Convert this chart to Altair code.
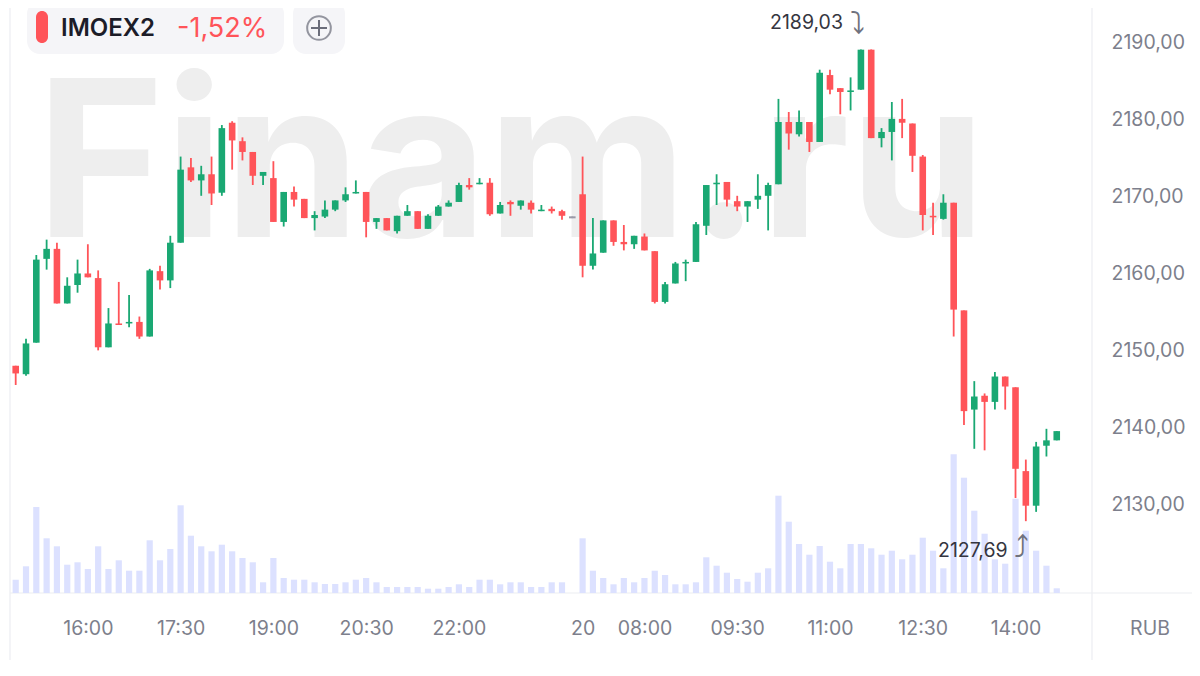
import altair as alt
import pandas as pd

opens = [2147.9,2146.8,2150.9,2161.8,2163.1,2156.0,2158.4,2159.9,2159.3,2150.3,2153.4,2153.4,2153.6,2151.7,2160.2,2159.0,2163.9,2173.7,2172.0,2172.8,
         2170.4,2179.5,2177.1,2175.7,2172.6,2172.3,2166.6,2170.5,2169.6,2167.1,2167.3,2168.2,2169.4,2170.3,2170.5,2166.6,2167.1,2165.4,2167.4,2168.0,
         2165.7,2167.4,2168.6,2169.2,2171.4,2171.5,2171.7,2167.7,2169.2,2168.7,2169.1,2168.0,2168.3,2168.0,2167.2,2170.2,2160.9,2162.6,2166.8,2164.0,
         2163.7,2164.7,2162.8,2156.2,2158.6,2161.2,2161.4,2166.1,2171.5,2171.8,2169.3,2168.6,2169.5,2170.0,2171.5,2179.6,2178.0,2179.6,2177.0,2185.7,
         2184.0,2183.5,2183.8,2189.0,2177.5,2178.3,2180.0,2179.4,2175.1,2167.4,2167.0,2169.1,2155.1,2142.2,2144.0,2143.2,2146.5,2145.1,2134.2,2129.7,
         2137.5,2138.2]
highs = [2147.9,2151.4,2162.3,2164.3,2163.9,2159.4,2161.7,2163.7,2160.3,2155.4,2158.8,2157.1,2154.3,2160.5,2160.9,2164.8,2175.1,2174.9,2173.9,2175.1,
         2179.2,2179.7,2177.6,2175.7,2173.1,2174.5,2170.5,2171.2,2169.6,2168.0,2169.4,2169.4,2171.1,2172.0,2170.5,2167.1,2167.1,2167.4,2168.8,2168.0,
         2167.6,2168.8,2169.4,2171.7,2172.3,2172.3,2172.3,2169.2,2169.4,2169.4,2169.4,2168.8,2168.6,2168.2,2167.3,2175.1,2167.1,2166.8,2166.8,2166.2,
         2164.8,2165.1,2162.8,2158.8,2161.4,2161.7,2166.6,2171.4,2172.8,2171.8,2170.0,2169.3,2172.8,2171.7,2182.6,2180.9,2181.1,2179.6,2186.4,2186.4,
         2184.0,2185.4,2189.03,2189.03,2178.8,2182.2,2182.6,2179.4,2175.3,2169.1,2170.2,2169.1,2155.1,2145.9,2144.3,2147.1,2146.5,2145.1,2135.7,2138.0,
         2139.7,2139.4]
lows = [2145.4,2146.6,2150.9,2160.4,2156.0,2156.0,2157.4,2159.4,2149.9,2150.3,2153.2,2152.9,2151.4,2151.7,2157.8,2158.0,2163.9,2171.8,2170.0,2168.8,
        2170.0,2173.4,2174.6,2171.4,2171.4,2166.6,2166.0,2168.6,2167.1,2165.5,2167.1,2168.0,2169.2,2170.3,2164.6,2165.7,2165.5,2165.1,2167.4,2165.7,
        2165.7,2167.4,2168.6,2169.2,2170.8,2171.5,2167.4,2167.7,2167.4,2168.2,2167.7,2168.0,2167.7,2166.9,2167.1,2159.4,2160.4,2162.6,2163.5,2162.9,
        2163.1,2162.9,2156.0,2156.0,2158.6,2158.9,2161.4,2164.9,2168.8,2168.6,2168.0,2166.6,2168.3,2165.5,2171.5,2176.0,2177.7,2175.7,2177.0,2183.2,
        2180.6,2181.1,2183.8,2177.5,2176.3,2174.6,2177.5,2173.1,2165.5,2164.9,2166.9,2151.7,2140.2,2137.1,2136.9,2142.2,2142.2,2130.7,2127.69,2128.9,
        2136.1,2138.2]
closes = [2146.9,2150.8,2161.7,2163.1,2156.0,2158.3,2159.9,2159.4,2150.3,2153.4,2153.2,2153.6,2151.7,2160.3,2159.0,2163.9,2173.4,2172.0,2172.8,2170.3,
          2178.8,2177.2,2175.7,2172.6,2173.1,2166.6,2170.5,2169.5,2167.1,2167.5,2168.2,2169.4,2170.2,2170.5,2166.6,2167.1,2165.5,2167.4,2168.0,2165.7,
          2167.4,2168.6,2169.1,2171.4,2171.1,2171.7,2167.6,2168.8,2168.9,2169.4,2168.2,2168.2,2168.0,2167.4,2167.2,2160.9,2162.5,2166.8,2164.0,2163.7,
          2164.8,2162.9,2156.2,2158.5,2161.2,2161.4,2166.3,2171.4,2171.7,2169.5,2168.6,2169.3,2170.0,2171.4,2179.6,2178.1,2179.6,2177.0,2186.0,2183.8,
          2183.5,2183.7,2189.0,2177.5,2178.3,2180.0,2179.5,2175.2,2167.5,2167.2,2169.1,2155.2,2142.0,2143.9,2143.2,2146.5,2145.2,2134.5,2129.7,2137.4,
          2138.2,2139.4]
volumes = [13.3,26.7,86,54.7,46.7,28.3,30.7,24,46.7,24,32.7,22.3,22.3,52.7,32.7,44,87.7,57.3,46.7,41.7,
           48.3,41.7,35,30.7,10.7,35,15,13.3,13.3,10.7,9,9,10.7,13.3,15,10.7,6,6,6,6,
           4.3,4.3,6,8.7,6,13.3,13.3,8.7,10.7,10.7,6,6,10.7,10.7,0,54.7,22.3,15,8.7,15,
           10.7,15,22.3,18,8.7,8.7,10.7,35.7,27.3,20.3,14,11.3,20.3,24.7,97.3,71.3,49,38.3,47,31.3,
           24.7,49,49,44.7,38.3,42.3,33.7,38.3,55.3,42.3,24.7,138.7,115.3,82.3,59.3,33.7,29.3,94.3,62.3,42.3,
           27.3,4.7]
price_ticks = [2130, 2140, 2150, 2160, 2170, 2180, 2190]
time_ticks = [7, 16, 25, 34, 43, 55, 61, 70, 79, 88, 97]
time_labels = ["16:00", "17:30", "19:00", "20:30", "22:00", "20", "08:00", "09:30", "11:00", "12:30", "14:00"]

GREEN, RED, GREY, VOL = "#1aa873", "#ff5459", "#9a9aa8", "#dce1ff"
LINE, AXIS_TXT, FONT = "#ecedf2", "#7d7f8c", "Inter"

rows = []
for i, (o, h, l, c, v) in enumerate(zip(opens, highs, lows, closes, volumes)):
    flat = o == c
    rows.append(dict(i=i, high=h, low=l, vol=v,
                     top=max(o, c) + (0.13 if flat else 0),
                     bot=min(o, c) - (0.13 if flat else 0),
                     color=GREY if flat else (GREEN if c > o else RED)))
df = pd.DataFrame(rows)

W, H = 1084, 585
xscale = alt.Scale(domain=[-0.747, 104.42], nice=False, zero=False, padding=0)
yscale = alt.Scale(domain=[2118.35, 2194.42], nice=False, zero=False)
label_map = "{" + ",".join(f"{k}:'{v}'" for k, v in zip(time_ticks, time_labels)) + "}"
x_axis = alt.Axis(values=time_ticks, labelExpr=f"{label_map}[datum.value]", title=None, grid=False, ticks=False,
                  domain=False, labelPadding=26, labelFontSize=19.5, labelColor=AXIS_TXT, labelFont=FONT,
                  labelOverlap=False, labelFlush=False)
y_axis = alt.Axis(orient="right", values=price_ticks, labelExpr="replace(format(datum.value,'.2f'),'.',',')",
                  title=None, grid=False, ticks=False, domain=False, labelPadding=19, labelFontSize=19.5,
                  labelOffset=1, labelColor=AXIS_TXT, labelFont=FONT)
X = alt.X("i:Q", scale=xscale, axis=x_axis)
base = alt.Chart(df)
one = pd.DataFrame({"a": [1]})


def rule(x, y, x2=None, y2=None, color=LINE, sw=1.2):
    enc = dict(x=alt.value(x), y=alt.value(y))
    if x2 is not None:
        enc["x2"] = alt.value(x2)
    if y2 is not None:
        enc["y2"] = alt.value(y2)
    return alt.Chart(one).mark_rule(color=color, strokeWidth=sw).encode(**enc)


def rect(x, x2, y, y2, color, radius):
    return alt.Chart(one).mark_rect(color=color, cornerRadius=radius).encode(
        x=alt.value(x), x2=alt.value(x2), y=alt.value(y), y2=alt.value(y2))


def label(txt, x, y, size, color, weight=400, font=FONT, align="left"):
    return alt.Chart(one).mark_text(fontSize=size, color=color, fontWeight=weight, font=font, align=align,
                                    baseline="middle").encode(
        x=alt.value(x), y=alt.value(y), text=alt.value(txt))


watermark = alt.Chart(one).mark_text(fontSize=219, color="#eeeeee", fontWeight=700, font=FONT, align="left",
                                     baseline="alphabetic").encode(
    x=alt.value(28), y=alt.value(229), text=alt.value("Finam.ru"))

vol_layer = base.mark_bar(width=6.2, color=VOL).encode(
    x=X, y=alt.Y("vol:Q", scale=alt.Scale(domain=[0, 585], nice=False), axis=None))
wicks = base.mark_rule(strokeWidth=1.8).encode(
    x=X, y=alt.Y("high:Q", scale=yscale, axis=y_axis), y2="low:Q", color=alt.Color("color:N", scale=None))
bodies = base.mark_bar(width=6.6).encode(
    x=X, y=alt.Y("top:Q", scale=yscale, axis=None), y2="bot:Q", color=alt.Color("color:N", scale=None))

chart = alt.layer(
    watermark,
    rule(2, 0, y2=652),
    rule(1084, 0, y2=652),
    rule(2, 585, x2=1184),
    vol_layer, wicks, bodies,
    label("2189,03", 762, 15, 19.5, "#35363f"),
    label("⤵", 842, 16, 30, "#70727e", font="DejaVu Sans"),
    label("2127,69", 930, 543, 19.5, "#35363f"),
    label("⤴", 1006, 541, 30, "#70727e", font="DejaVu Sans"),
    label("RUB", 1142, 621, 19.5, AXIS_TXT, align="center"),
    rect(19, 276, -7, 46, "#f5f5f8", 13),
    rect(285, 337, -7, 46, "#f5f5f8", 13),
    rect(28, 40, 3, 35, RED, 6),
    label("IMOEX2", 53, 21, 24, "#1c1c28", 600),
    label("-1,52%", 169, 21, 27, RED),
    alt.Chart(one).mark_point(shape="circle", size=560, filled=False, color="#6b6d7a", strokeWidth=2).encode(
        x=alt.value(311), y=alt.value(20)),
    rule(303, 20, x2=319, color="#6b6d7a", sw=2),
    rule(311, 12, y2=28, color="#6b6d7a", sw=2),
).resolve_scale(y="independent").properties(
    width=W, height=H, background="white",
    autosize=alt.AutoSizeParams(type="none"),
    padding={"left": 0, "top": 0, "right": 100, "bottom": 70},
).configure_view(stroke=None)

chart.save("out.html", embed_options={"renderer": "svg", "actions": False})
